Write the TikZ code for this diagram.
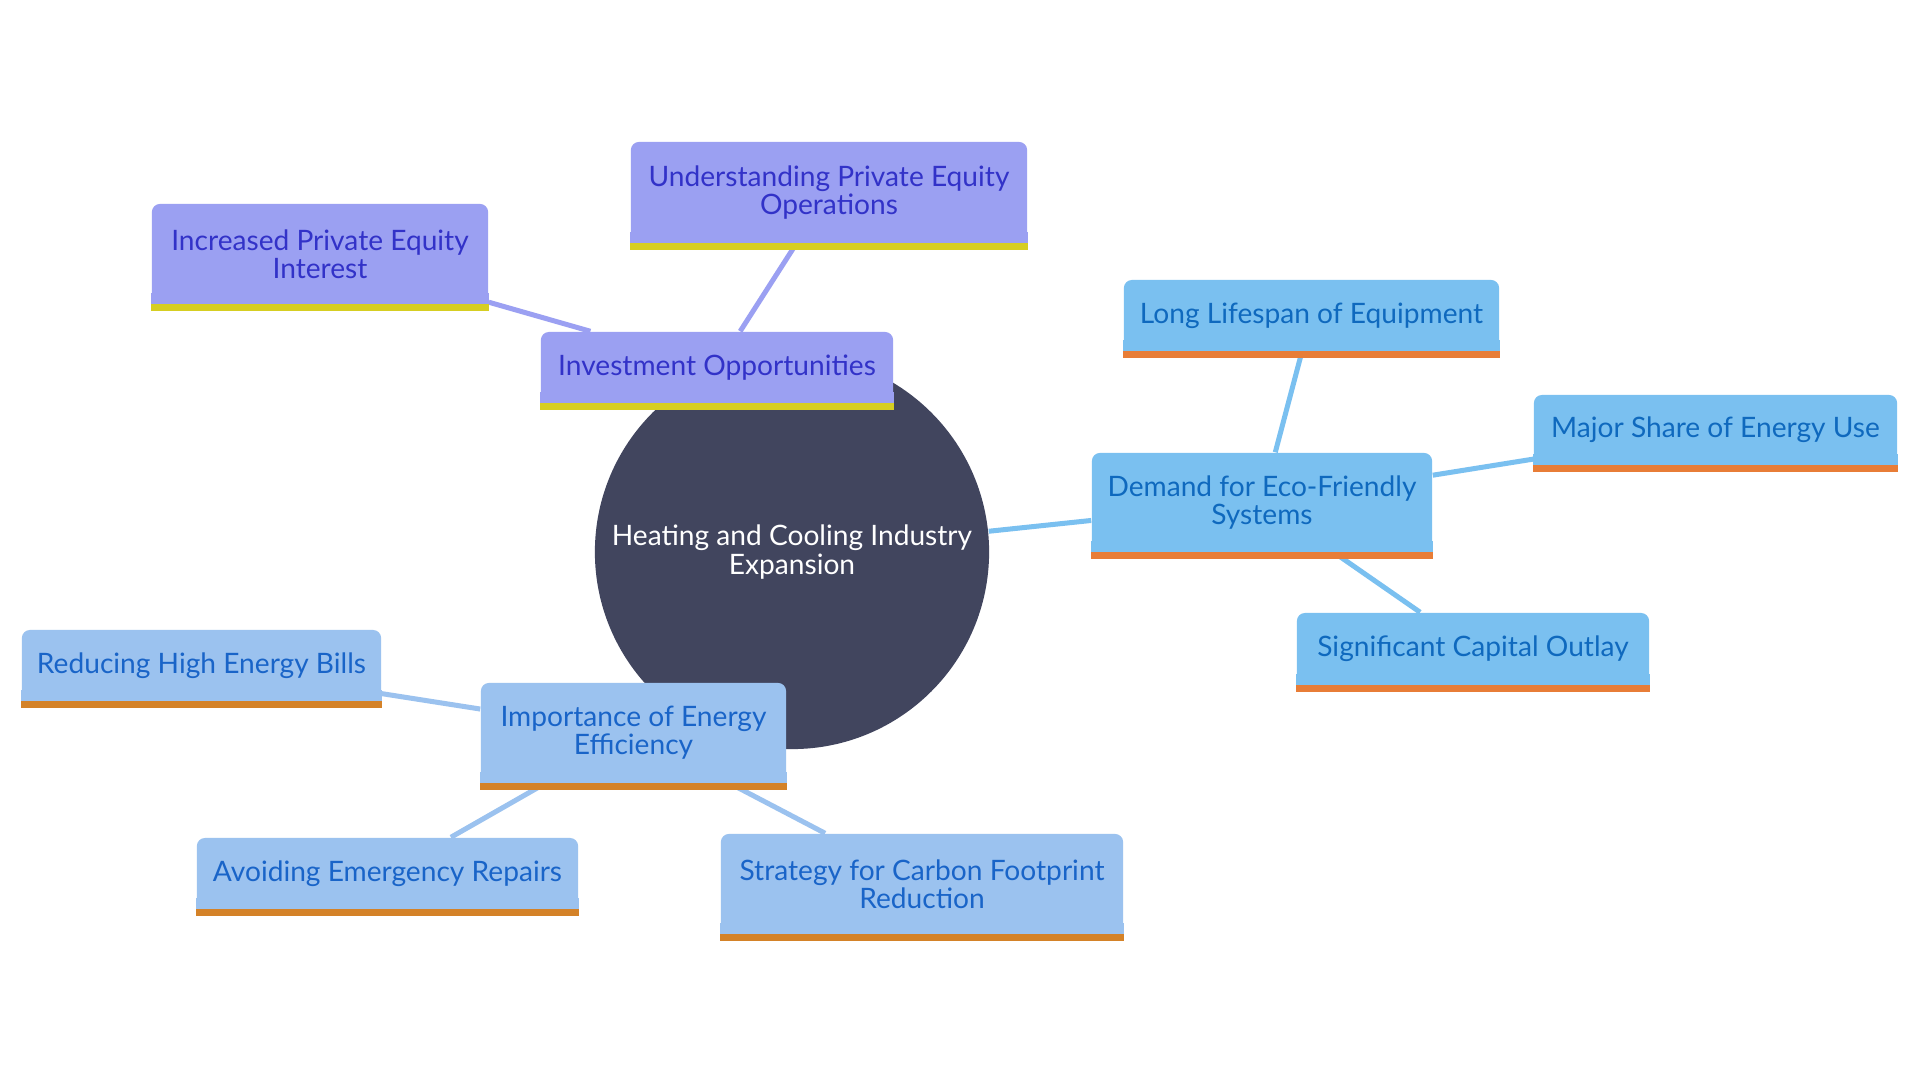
\documentclass[tikz,border=0pt]{standalone}
\usepackage{fontspec}
\setmainfont{Lato}
\usetikzlibrary{backgrounds}
\definecolor{pfill}{RGB}{155,160,242}
\definecolor{ptext}{RGB}{50,50,200}
\definecolor{pband}{RGB}{214,206,34}
\definecolor{bfill}{RGB}{122,192,240}
\definecolor{btext}{RGB}{15,105,190}
\definecolor{bband}{RGB}{232,125,55}
\definecolor{lfill}{RGB}{155,194,239}
\definecolor{ltext}{RGB}{25,100,200}
\definecolor{lband}{RGB}{212,130,40}
\definecolor{rootc}{RGB}{65,69,94}
\tikzset{
  box/.style={rectangle, rounded corners=0.08cm, inner sep=0pt, align=center,
    font=\fontsize{8pt}{8pt}\selectfont},
  pbox/.style={box, fill=pfill, text=ptext},
  bbox/.style={box, fill=bfill, text=btext},
  lbox/.style={box, fill=lfill, text=ltext},
  conn/.style={line width=0.05cm},
}
\begin{document}
\begin{tikzpicture}[x=0.01cm,y=-0.01cm]
\useasboundingbox (0,0) rectangle (1920,1080);
\node[circle, fill=rootc, text=white, minimum size=3.94cm, inner sep=0pt, align=center,
  font=\fontsize{8pt}{8pt}\selectfont] (root) at (792,552) {Heating and Cooling Industry\\Expansion};
% purple group
\node[pbox, minimum width=3.52cm, minimum height=0.71cm] (inv) at (717,367.5) {Investment Opportunities};
\node[pbox, minimum width=3.36cm, minimum height=1.00cm] (incr) at (320,254) {Increased Private Equity\\Interest};
\node[pbox, minimum width=3.96cm, minimum height=1.01cm] (und) at (829,192.5) {Understanding Private Equity\\Operations};
% blue group
\node[bbox, minimum width=3.40cm, minimum height=0.99cm] (dem) at (1262,502.5) {Demand for Eco-Friendly\\Systems};
\node[bbox, minimum width=3.75cm, minimum height=0.71cm] (long) at (1311.5,315.5) {Long Lifespan of Equipment};
\node[bbox, minimum width=3.63cm, minimum height=0.70cm] (maj) at (1715.5,430) {Major Share of Energy Use};
\node[bbox, minimum width=3.52cm, minimum height=0.72cm] (sig) at (1473,649) {Significant Capital Outlay};
% light blue group
\node[lbox, minimum width=3.05cm, minimum height=1.00cm] (imp) at (633.5,733) {Importance of Energy\\Efficiency};
\node[lbox, minimum width=3.59cm, minimum height=0.71cm] (red) at (201.5,665.5) {Reducing High Energy Bills};
\node[lbox, minimum width=3.81cm, minimum height=0.71cm] (avo) at (387.5,873.5) {Avoiding Emergency Repairs};
\node[lbox, minimum width=4.02cm, minimum height=1.00cm] (str) at (922,884) {Strategy for Carbon Footprint\\Reduction};
% square bottoms and bands
\foreach \n/\f/\c in {inv/pfill/pband,incr/pfill/pband,und/pfill/pband,dem/bfill/bband,long/bfill/bband,maj/bfill/bband,sig/bfill/bband,imp/lfill/lband,red/lfill/lband,avo/lfill/lband,str/lfill/lband}{
  \fill[\f] ([yshift=0.12cm]\n.south west) rectangle (\n.south east);
  \fill[\c] ([yshift=0.005cm]\n.south west) rectangle ([yshift=-0.06cm]\n.south east);
}
% connectors
\begin{scope}[on background layer]
\fill[white] (0,0) rectangle (1920,1080);
\draw[conn, pfill] (root) -- (inv);
\draw[conn, pfill] (inv) -- (incr);
\draw[conn, pfill] (inv) -- (und);
\draw[conn, bfill] (root) -- (dem);
\draw[conn, bfill] (dem) -- (long);
\draw[conn, bfill] (dem) -- (maj);
\draw[conn, bfill] (dem) -- (sig);
\draw[conn, lfill] (root) -- (imp);
\draw[conn, lfill] (imp) -- (red);
\draw[conn, lfill] (imp) -- (avo);
\draw[conn, lfill] (imp) -- (str);
\end{scope}
\end{tikzpicture}
\end{document}
